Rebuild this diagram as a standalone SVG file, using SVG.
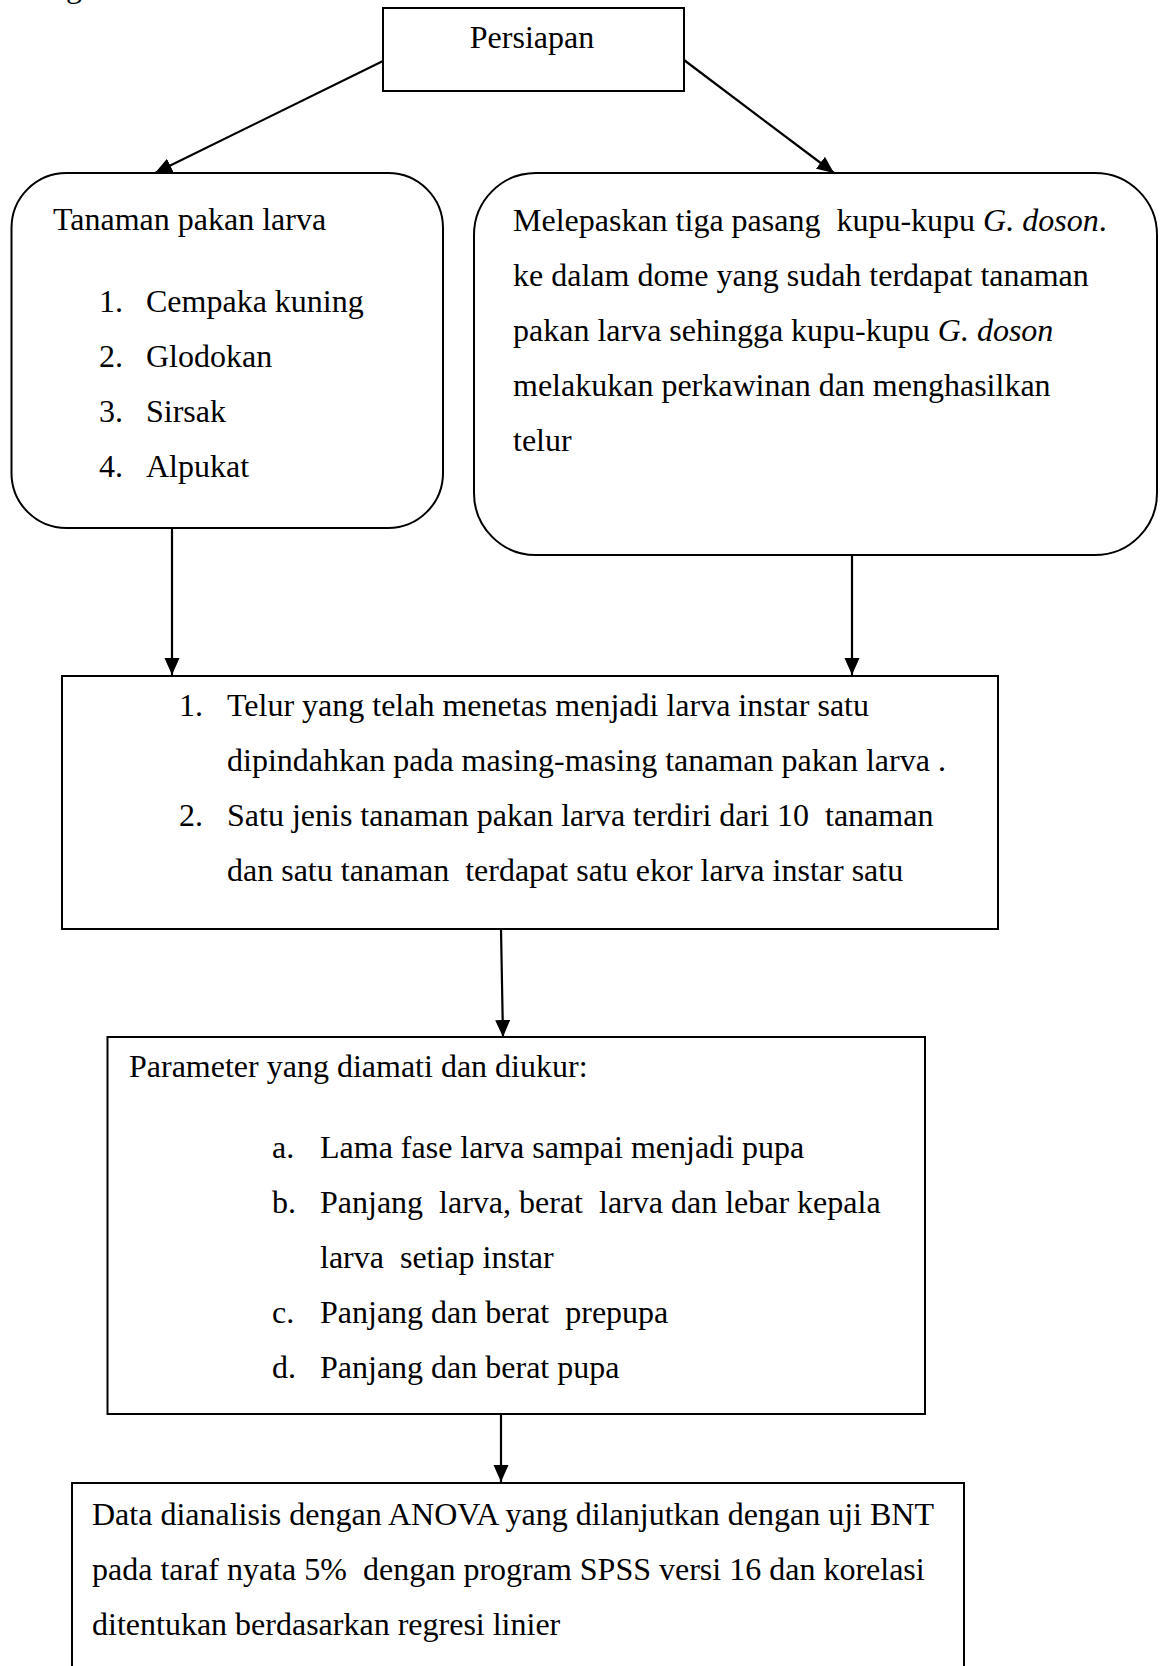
<svg xmlns="http://www.w3.org/2000/svg" width="1163" height="1666" viewBox="0 0 1163 1666">
<style>
text{font-family:"Liberation Serif","Times New Roman",serif;font-size:32px;fill:#000;white-space:pre}
.box{fill:#fff;stroke:#000;stroke-width:2}
.conn{stroke:#000;stroke-width:2.2;fill:none}
.it{font-style:italic}
</style>
<defs>
<marker id="ah" markerUnits="userSpaceOnUse" markerWidth="17" markerHeight="16" refX="17" refY="7.5" orient="auto">
<path d="M0,0 L17,7.5 L0,15 z" fill="#000"/>
</marker>
</defs>
<rect width="1163" height="1666" fill="#fff"/>
<text x="66" y="-3">g</text>
<g id="connectors">
<line class="conn" x1="383" y1="61" x2="155" y2="173" marker-end="url(#ah)"/>
<line class="conn" x1="684" y1="60" x2="834" y2="173" marker-end="url(#ah)"/>
<line class="conn" x1="172" y1="528" x2="172" y2="675" marker-end="url(#ah)"/>
<line class="conn" x1="852" y1="555" x2="852" y2="675" marker-end="url(#ah)"/>
<line class="conn" x1="501" y1="929" x2="503" y2="1037" marker-end="url(#ah)"/>
<line class="conn" x1="501" y1="1414" x2="501" y2="1482" marker-end="url(#ah)"/>
</g>
<g id="persiapan">
<rect class="box" x="383" y="8" width="301" height="83"/>
<text x="532" y="48" text-anchor="middle">Persiapan</text>
</g>
<g id="tanaman">
<rect class="box" x="11.5" y="173" width="431.5" height="355" rx="55" ry="55"/>
<text x="53" y="230">Tanaman pakan larva</text>
<text x="99" y="312">1.</text><text x="146" y="312">Cempaka kuning</text>
<text x="99" y="367">2.</text><text x="146" y="367">Glodokan</text>
<text x="99" y="422">3.</text><text x="146" y="422">Sirsak</text>
<text x="99" y="477">4.</text><text x="146" y="477">Alpukat</text>
</g>
<g id="melepaskan">
<rect class="box" x="474" y="173" width="683" height="382" rx="62" ry="62"/>
<text x="513" y="231">Melepaskan tiga pasang  kupu-kupu <tspan class="it">G. doson</tspan>.</text>
<text x="513" y="286">ke dalam dome yang sudah terdapat tanaman</text>
<text x="513" y="341">pakan larva sehingga kupu-kupu <tspan class="it">G. doson</tspan></text>
<text x="513" y="396">melakukan perkawinan dan menghasilkan</text>
<text x="513" y="451">telur</text>
</g>
<g id="telur">
<rect class="box" x="62" y="676" width="936" height="253"/>
<text x="179" y="716">1.</text><text x="227" y="716">Telur yang telah menetas menjadi larva instar satu</text>
<text x="227" y="771">dipindahkan pada masing-masing tanaman pakan larva .</text>
<text x="179" y="826">2.</text><text x="227" y="826">Satu jenis tanaman pakan larva terdiri dari 10  tanaman</text>
<text x="227" y="881">dan satu tanaman  terdapat satu ekor larva instar satu</text>
</g>
<g id="parameter">
<rect class="box" x="107.5" y="1037" width="817.5" height="377"/>
<text x="129" y="1077">Parameter yang diamati dan diukur:</text>
<text x="272" y="1158">a.</text><text x="320" y="1158">Lama fase larva sampai menjadi pupa</text>
<text x="272" y="1213">b.</text><text x="320" y="1213">Panjang  larva, berat  larva dan lebar kepala</text>
<text x="320" y="1268">larva  setiap instar</text>
<text x="272" y="1323">c.</text><text x="320" y="1323">Panjang dan berat  prepupa</text>
<text x="272" y="1378">d.</text><text x="320" y="1378">Panjang dan berat pupa</text>
</g>
<g id="analisis">
<rect class="box" x="72" y="1483" width="892" height="240"/>
<text x="92" y="1525">Data dianalisis dengan ANOVA yang dilanjutkan dengan uji BNT</text>
<text x="92" y="1580">pada taraf nyata 5%  dengan program SPSS versi 16 dan korelasi</text>
<text x="92" y="1635">ditentukan berdasarkan regresi linier</text>
</g>
</svg>
